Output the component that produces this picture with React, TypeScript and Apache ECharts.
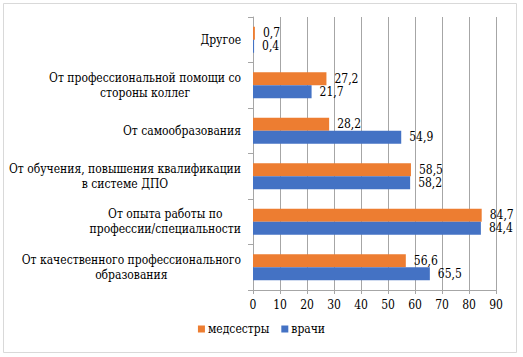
import React, { useEffect, useRef } from "react";
import * as echarts from "echarts";

const categories: string[] = [
  "От качественного профессионального\nобразования",
  "От опыта работы по\nпрофессии/специальности",
  "От обучения, повышения квалификации\nв системе ДПО",
  "От самообразования",
  "От профессиональной помощи со\nстороны коллег",
  "Другое",
];
const nurses: number[] = [56.6, 84.7, 58.5, 28.2, 27.2, 0.7];
const doctors: number[] = [65.5, 84.4, 58.2, 54.9, 21.7, 0.4];
const seriesNames: string[] = ["медсестры", "врачи"];

const FONT = "DejaVu Serif Condensed";

export default function App() {
  const ref = useRef<HTMLDivElement>(null);
  useEffect(() => {
    if (!ref.current) return;
    const chart = echarts.init(ref.current, undefined, { renderer: "svg" });
    const labelCfg = {
      show: true,
      position: "right" as const,
      distance: 8,
      fontFamily: FONT,
      fontSize: 12,
      color: "#000",
      formatter: (p: any) => String(p.value).replace(".", ","),
    };
    chart.setOption({
      animation: false,
      textStyle: { fontFamily: FONT },
      graphic: [
        {
          type: "rect",
          shape: { x: 3.5, y: 3.5, width: 513, height: 349 },
          style: { fill: "none", stroke: "#d9d9d9", lineWidth: 1 },
          silent: true,
        },
      ],
      grid: { left: 253, right: 27, top: 17, bottom: 67, containLabel: false, outerBoundsMode: "none" },
      legend: {
        data: seriesNames,
        bottom: 17,
        left: "center",
        itemWidth: 7,
        itemHeight: 7,
        itemGap: 12,
        icon: "rect",
        textStyle: { fontFamily: FONT, fontSize: 12, color: "#000", padding: [0, 0, 0, -2] },
      },
      xAxis: {
        type: "value",
        min: 0,
        max: 90,
        interval: 10,
        axisLine: { show: true, lineStyle: { color: "#a6a6a6" } },
        axisTick: { show: true, length: 4, lineStyle: { color: "#a6a6a6" } },
        splitLine: { show: true, lineStyle: { color: "#a6a6a6" } },
        axisLabel: { fontFamily: FONT, fontSize: 12, color: "#000", margin: 9 },
      },
      yAxis: {
        type: "category",
        data: categories,
        axisLine: { show: true, lineStyle: { color: "#a6a6a6" } },
        axisTick: { show: true, length: 5, lineStyle: { color: "#a6a6a6" } },
        axisLabel: {
          fontFamily: FONT,
          fontSize: 12,
          color: "#000",
          margin: 12,
          lineHeight: 15,
          formatter: (v: string) =>
            v
              .split("\n")
              .map((l) => `{c|${l}}`)
              .join("\n"),
          rich: {
            c: { align: "center", fontFamily: FONT, fontSize: 12, color: "#000", lineHeight: 15 },
          },
        },
      },
      series: [
        {
          name: "медсестры",
          type: "bar",
          data: nurses,
          itemStyle: { color: "#ED7D31" },
          barWidth: 13,
          barGap: "0%",
          label: labelCfg,
        },
        {
          name: "врачи",
          type: "bar",
          data: doctors,
          itemStyle: { color: "#4472C4" },
          barWidth: 13,
          barGap: "0%",
          label: labelCfg,
        },
      ],
    });
    return () => chart.dispose();
  }, []);
  return (
    <div
      ref={ref}
      style={{ position: "absolute", left: 0, top: 0, width: 523, height: 357, background: "#fff" }}
    />
  );
}
